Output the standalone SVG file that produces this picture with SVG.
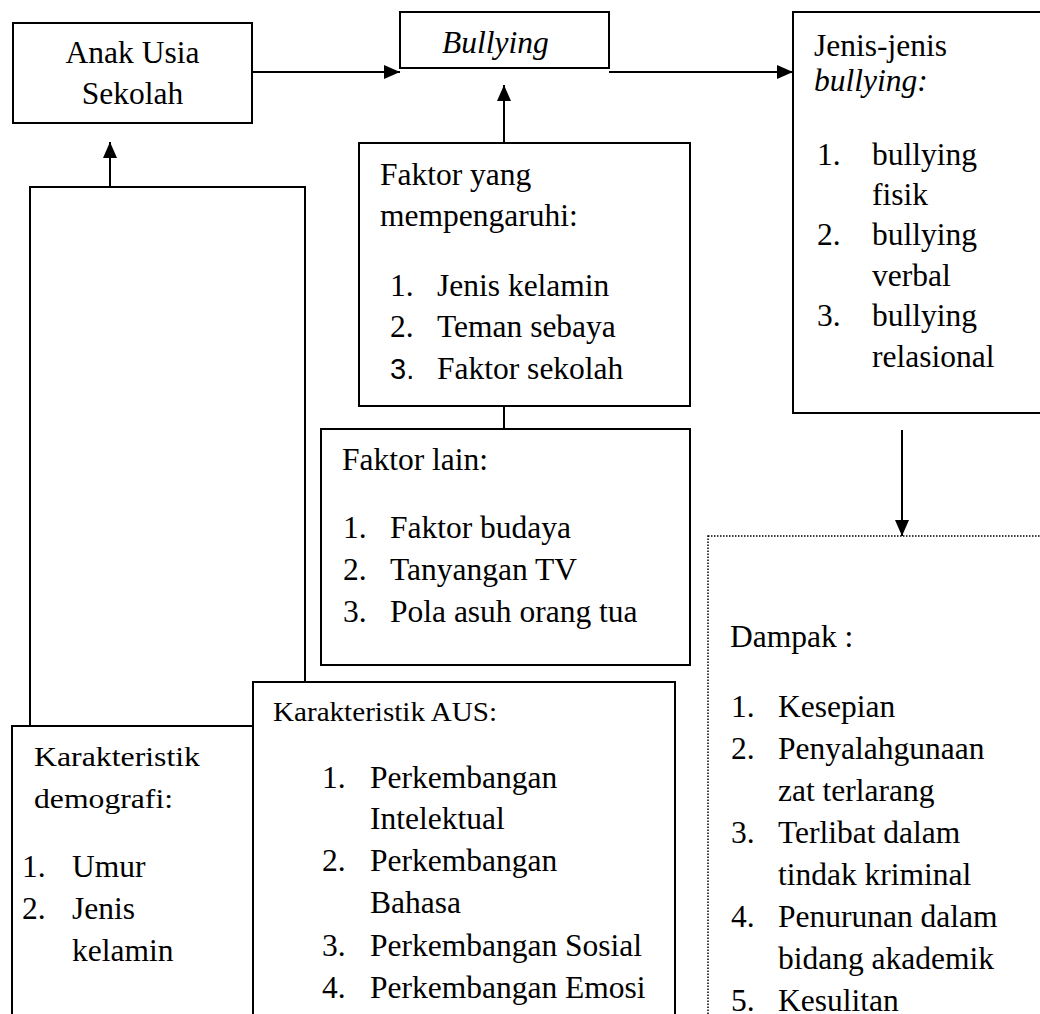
<svg xmlns="http://www.w3.org/2000/svg" width="1040" height="1014" viewBox="0 0 1040 1014">
<style>
.box{fill:#fff;stroke:#000;stroke-width:2}
.dot{fill:#fff;stroke:#000;stroke-width:1.5;stroke-dasharray:1.5 1.5}
.ln{fill:none;stroke:#000;stroke-width:2}
text{font-family:"Liberation Serif","Times New Roman",serif;font-size:31.5px;fill:#000}
.it{font-style:italic}
.sm{font-size:27px}
.sans{font-family:"Liberation Sans",Arial,sans-serif;font-size:29px}
</style>
<defs>
<marker id="ah" markerUnits="userSpaceOnUse" markerWidth="16" markerHeight="14" refX="16" refY="7" orient="auto">
<path d="M0,0 L16,7 L0,14 z" fill="#000"/>
</marker>
</defs>
<rect width="1040" height="1014" fill="#fff"/>

<g id="connectors">
<line class="ln" x1="252" y1="72" x2="400" y2="72" marker-end="url(#ah)"/>
<line class="ln" x1="609" y1="72" x2="793" y2="72" marker-end="url(#ah)"/>
<line class="ln" x1="504" y1="143" x2="504" y2="85" marker-end="url(#ah)"/>
<line class="ln" x1="110" y1="187" x2="110" y2="142" marker-end="url(#ah)"/>
<polyline class="ln" points="30,726 30,187 305,187 305,682"/>
<line class="ln" x1="504" y1="406" x2="504" y2="429"/>
<line class="ln" x1="902" y1="430" x2="902" y2="536" marker-end="url(#ah)"/>
</g>

<g id="anak">
<rect class="box" x="13" y="23" width="239" height="100"/>
<text x="132.5" y="63" text-anchor="middle">Anak Usia</text>
<text x="132.5" y="104" text-anchor="middle">Sekolah</text>
</g>

<g id="bullying">
<rect class="box" x="400" y="12" width="209" height="56"/>
<text class="it" x="442" y="53">Bullying</text>
</g>

<g id="jenis">
<rect class="box" x="793" y="12" width="260" height="401"/>
<text x="814" y="56">Jenis-jenis</text>
<text class="it" x="814" y="91">bullying:</text>
<text x="817" y="165">1.</text><text x="872" y="165">bullying</text>
<text x="872" y="205">fisik</text>
<text x="817" y="245">2.</text><text x="872" y="245">bullying</text>
<text x="872" y="286">verbal</text>
<text x="817" y="326">3.</text><text x="872" y="326">bullying</text>
<text x="872" y="367">relasional</text>
</g>

<g id="faktor-yang">
<rect class="box" x="359" y="143" width="331" height="263"/>
<text x="380" y="185">Faktor yang</text>
<text x="380" y="226">mempengaruhi:</text>
<text x="390" y="296">1.</text><text x="437" y="296">Jenis kelamin</text>
<text x="390" y="337">2.</text><text x="437" y="337">Teman sebaya</text>
<text class="sans" x="390" y="379">3.</text><text x="437" y="379">Faktor sekolah</text>
</g>

<g id="faktor-lain">
<rect class="box" x="321" y="429" width="369" height="236"/>
<text x="342" y="470">Faktor lain:</text>
<text x="343" y="538">1.</text><text x="390" y="538">Faktor budaya</text>
<text x="343" y="580">2.</text><text x="390" y="580">Tanyangan TV</text>
<text x="343" y="622">3.</text><text x="390" y="622">Pola asuh orang tua</text>
</g>

<g id="demografi">
<rect class="box" x="12" y="726" width="241" height="300"/>
<text class="sm" x="34" y="766" textLength="166" lengthAdjust="spacingAndGlyphs">Karakteristik</text>
<text class="sm" x="34" y="808" textLength="139" lengthAdjust="spacingAndGlyphs">demografi:</text>
<text x="22" y="877">1.</text><text x="72" y="877">Umur</text>
<text x="22" y="919">2.</text><text x="72" y="919">Jenis</text>
<text x="72" y="961">kelamin</text>
</g>

<g id="aus">
<rect class="box" x="253" y="682" width="422" height="340"/>
<text class="sm" x="273" y="721" textLength="224" lengthAdjust="spacingAndGlyphs">Karakteristik AUS:</text>
<text x="322" y="788">1.</text><text x="370" y="788">Perkembangan</text>
<text x="370" y="829">Intelektual</text>
<text x="322" y="871">2.</text><text x="370" y="871">Perkembangan</text>
<text x="370" y="913">Bahasa</text>
<text x="322" y="956">3.</text><text x="370" y="956">Perkembangan Sosial</text>
<text x="322" y="998">4.</text><text x="370" y="998">Perkembangan Emosi</text>
</g>

<g id="dampak">
<rect class="dot" x="708" y="536" width="340" height="490"/>
<text x="730" y="647">Dampak :</text>
<text x="731" y="717">1.</text><text x="778" y="717">Kesepian</text>
<text x="731" y="759">2.</text><text x="778" y="759">Penyalahgunaan</text>
<text x="778" y="801">zat terlarang</text>
<text x="731" y="843">3.</text><text x="778" y="843">Terlibat dalam</text>
<text x="778" y="885">tindak kriminal</text>
<text x="731" y="927">4.</text><text x="778" y="927">Penurunan dalam</text>
<text x="778" y="969">bidang akademik</text>
<text x="731" y="1011">5.</text><text x="778" y="1011">Kesulitan</text>
</g>
</svg>
